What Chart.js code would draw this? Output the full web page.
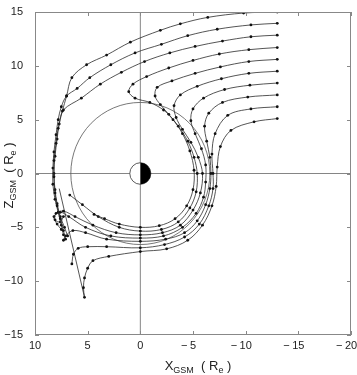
<!DOCTYPE html>
<html><head><meta charset="utf-8">
<script src="https://cdn.jsdelivr.net/npm/chart.js@4/dist/chart.umd.min.js"></script>
<style>html,body{margin:0;padding:0;background:#fff;}#wrap{width:357px;height:375px;}</style>
</head><body><div id="wrap"><canvas id="c" width="357" height="375"></canvas></div>
<script>
// Tick labels
const xTicks = [10, 5, 0, -5, -10, -15, -20];
const zTicks = [15, 10, 5, 0, -5, -10, -15];

// Trajectories in (X_GSM, Z_GSM), Re
const line1 = [[-13,15.0],[-9.8,14.9],[-6.4,14.5],[-3.8,13.9],[-1.9,13.3],[0.95,12.2],[3.2,11.0],[5.1,10.1],[6.5,8.9],[7.0,7.2],[7.4,5.8],[7.8,4.2],[8.0,2.8],[8.2,1.2],[8.2,-0.3],[8.1,-1.8],[7.9,-3.0],[7.6,-4.2],[7.3,-5.3],[7.1,-6.1]];
const line2 = [[-13,13.95],[-10.5,13.8],[-7.3,13.4],[-4.5,12.8],[-2,12.0],[0.5,11.2],[2.8,10.1],[4.8,8.9],[6.0,7.9],[7.0,7.2],[7.5,6.2],[7.8,5.0],[8.0,3.6],[8.2,2.0],[8.3,0.5],[8.3,-1.0],[8.1,-2.4],[7.8,-3.6],[7.5,-4.8],[7.3,-5.7]];
const line3 = [[-13,12.85],[-10.5,12.7],[-7.8,12.3],[-5.2,11.8],[-2.8,11.2],[-0.4,10.4],[1.8,9.4],[3.8,8.3],[5.6,7.0],[7.3,5.9],[7.7,4.6],[7.9,3.2],[8.1,1.6],[8.2,0],[8.1,-1.5],[7.9,-2.8],[7.6,-4.0],[7.2,-5.0],[6.9,-5.8]];
const line4 = [[-13,11.7],[-10.3,11.5],[-7.5,11.1],[-5,10.5],[-2.7,9.8],[-0.6,9.0],[0.7,8.3],[1.1,7.6],[0.5,7.0],[-0.9,6.6],[-2.2,5.9],[-3.1,5.0],[-4.0,3.7],[-4.7,2.1],[-5.1,0.3],[-5.0,-1.5],[-4.4,-3.0],[-3.3,-4.2],[-1.8,-4.85],[0,-5.0],[2.0,-4.7],[3.4,-4.2],[4.4,-3.8]];
const line5 = [[-13,10.6],[-10.3,10.4],[-7.6,9.9],[-5.2,9.3],[-3.0,8.6],[-1.6,8.0],[-1.4,7.2],[-1.9,6.4],[-2.7,5.5],[-3.6,4.4],[-4.5,3.0],[-5.1,1.5],[-5.4,0],[-5.3,-1.7],[-4.7,-3.2],[-3.6,-4.5],[-2.0,-5.2],[0,-5.35],[2,-5.0],[4,-4.0],[5.5,-2.9],[6.7,-2.0]];
const line6 = [[-13,9.5],[-10.3,9.3],[-7.7,8.8],[-5.4,8.1],[-3.8,7.3],[-3.2,6.3],[-3.4,5.2],[-4.0,4.1],[-4.8,2.9],[-5.5,1.5],[-5.9,0],[-5.7,-1.8],[-5.0,-3.4],[-3.8,-4.8],[-2.1,-5.5],[0,-5.7],[2.3,-5.5],[4.5,-4.8],[6.2,-4.0],[7.3,-3.5],[8.0,-3.7],[8.1,-4.3],[7.6,-4.5],[7.3,-4.0]];
const line7 = [[-13,8.4],[-10.4,8.2],[-8.0,7.8],[-6.0,7.0],[-5.0,6.0],[-4.8,4.9],[-5.2,3.7],[-5.8,2.3],[-6.2,0.8],[-6.2,-0.8],[-6.0,-2.2],[-5.3,-3.7],[-4.0,-5.0],[-2.2,-5.8],[0,-6.0],[2.8,-5.8],[5.2,-5.0],[6.8,-4.0],[7.6,-3.6],[8.2,-4.0],[7.9,-4.7],[7.5,-5.2]];
const line8 = [[-13,7.3],[-10.2,7.1],[-7.8,6.6],[-6.5,5.6],[-6.1,4.4],[-6.3,3.0],[-6.6,1.5],[-6.7,0],[-6.6,-1.4],[-6.2,-2.9],[-5.4,-4.4],[-4.2,-5.5],[-2.4,-6.1],[0,-6.3],[3.2,-6.1],[5.2,-5.5],[6.4,-5.3],[7.1,-5.8],[7.3,-6.2]];
const line9 = [[-13,6.2],[-10.5,6.0],[-8.3,5.4],[-7.1,3.7],[-6.8,1.8],[-6.9,0],[-6.9,-1.4],[-6.5,-3.0],[-5.6,-4.7],[-4.2,-5.9],[-2.3,-6.6],[0,-6.9],[3.2,-6.8],[5.0,-6.8],[5.9,-6.95],[6.35,-7.5],[6.5,-8.4]];
const line10 = [[-13,5.1],[-10.8,4.8],[-8.6,4.0],[-7.6,2.5],[-7.3,0.6],[-7.2,-1.2],[-6.8,-3.0],[-5.9,-4.8],[-4.5,-6.2],[-2.5,-7.0],[0,-7.25],[3,-7.7],[4.5,-8.1],[5.0,-8.8],[5.3,-9.7],[5.4,-10.6],[5.3,-11.5]];
const returnSegment = [[5.3,-11.5],[7.7,-1.4]];

const orbitRadius = 6.6;
const earthRadius = 1.0;

const lines = [line1,line2,line3,line4,line5,line6,line7,line8,line9,line10];

const datasets = lines.map((l,i)=>({
  label:'L'+(i+1),
  data:l.map(p=>({x:p[0],y:p[1]})),
  showLine:true, tension:0.35,
  borderColor:'#2a2a2a', borderWidth:0.8,
  pointRadius:1.4, pointBackgroundColor:'#111', pointBorderWidth:0, pointHoverRadius:1.4
}));
datasets.push({label:'seg', data:returnSegment.map(p=>({x:p[0],y:p[1]})), showLine:true, tension:0,
  borderColor:'#2a2a2a', borderWidth:0.8, pointRadius:0});

const FONT = '"Liberation Sans", Arial, sans-serif';

const decor = {
  id:'decor',
  beforeDatasetsDraw(chart){
    const {ctx, chartArea:a, scales:{x,y}} = chart;
    const cx = x.getPixelForValue(0), cy = y.getPixelForValue(0);
    ctx.save();
    ctx.strokeStyle='#777'; ctx.lineWidth=0.9;
    ctx.beginPath(); ctx.moveTo(cx,a.top); ctx.lineTo(cx,a.bottom); ctx.stroke();
    ctx.beginPath(); ctx.moveTo(a.left,cy); ctx.lineTo(a.right,cy); ctx.stroke();
    const rx = Math.abs(x.getPixelForValue(orbitRadius)-cx), rz = Math.abs(y.getPixelForValue(orbitRadius)-cy);
    ctx.strokeStyle='#555'; ctx.lineWidth=0.8;
    ctx.beginPath(); ctx.ellipse(cx,cy,rx,rz,0,0,Math.PI*2); ctx.stroke();
    const ex = Math.abs(x.getPixelForValue(earthRadius)-cx), ez = Math.abs(y.getPixelForValue(earthRadius)-cy);
    ctx.fillStyle='#fff';
    ctx.beginPath(); ctx.ellipse(cx,cy,ex,ez,0,0,Math.PI*2); ctx.fill();
    ctx.strokeStyle='#333'; ctx.lineWidth=0.8; ctx.stroke();
    ctx.fillStyle='#000';
    ctx.beginPath(); ctx.moveTo(cx,cy-ez); ctx.ellipse(cx,cy,ex,ez,0,-Math.PI/2,Math.PI/2); ctx.closePath(); ctx.fill();
    ctx.restore();
  },
  afterDraw(chart){
    const {ctx, chartArea:a, scales:{x,y}} = chart;
    ctx.save();
    ctx.strokeStyle='#888'; ctx.lineWidth=1;
    ctx.strokeRect(a.left+0.5,a.top+0.5,a.right-a.left-1,a.bottom-a.top-1);
    ctx.beginPath();
    const tl=4;
    xTicks.forEach(v=>{ const px=Math.round(x.getPixelForValue(v))+0.5;
      ctx.moveTo(px,a.bottom); ctx.lineTo(px,a.bottom-tl);
      ctx.moveTo(px,a.top); ctx.lineTo(px,a.top+tl); });
    zTicks.forEach(v=>{ const py=Math.round(y.getPixelForValue(v))+0.5;
      ctx.moveTo(a.left,py); ctx.lineTo(a.left+tl,py);
      ctx.moveTo(a.right,py); ctx.lineTo(a.right-tl,py); });
    ctx.stroke();
    // x tick labels: number centred on the tick, minus sign hanging to the left
    ctx.fillStyle='#222'; ctx.textBaseline='alphabetic';
    ctx.font='11px '+FONT;
    xTicks.forEach(v=>{
      const px = x.getPixelForValue(v);
      const num = String(Math.abs(v));
      const w = ctx.measureText(num).width;
      ctx.textAlign='center'; ctx.fillText(num, px, 349);
      if (v<0){ ctx.textAlign='right'; ctx.fillText('\u2212', px - w/2 - 2.5, 349); }
    });
    // axis titles with subscripts
    const parts = (main) => [
      {t:main,s:13,dy:0},{t:'GSM',s:9,dy:3},{t:'  ( R',s:13,dy:0},{t:'e',s:9,dy:3},{t:' )',s:13,dy:0}];
    function drawParts(ps){
      let w=0; ps.forEach(p=>{ctx.font=p.s+'px '+FONT; p.w=ctx.measureText(p.t).width; w+=p.w;});
      let xx=-w/2;
      ps.forEach(p=>{ctx.font=p.s+'px '+FONT; ctx.fillText(p.t,xx,p.dy); xx+=p.w;});
    }
    ctx.textAlign='left';
    ctx.save(); ctx.translate((a.left+a.right)/2+5, 370); drawParts(parts('X')); ctx.restore();
    ctx.save(); ctx.translate(13, (a.top+a.bottom)/2+2); ctx.rotate(-Math.PI/2); drawParts(parts('Z')); ctx.restore();
    ctx.restore();
  }
};

const fmtY = v => v<0 ? '\u2212' + (-v) : String(v);

new Chart(document.getElementById('c'), {
  type:'scatter',
  data:{datasets},
  options:{
    responsive:false, animation:false, devicePixelRatio:1,
    layout:{padding:{top:12,right:6,left:0,bottom:0}},
    plugins:{legend:{display:false}, tooltip:{enabled:false}},
    scales:{
      x:{type:'linear', min:-20, max:10, reverse:true,
        afterBuildTicks:s=>{s.ticks=xTicks.map(v=>({value:v}));},
        afterFit:s=>{s.height=40; s.paddingLeft=0; s.paddingRight=0;},
        grid:{display:false}, border:{display:false},
        ticks:{display:false}},
      y:{type:'linear', min:-15, max:15,
        afterBuildTicks:s=>{s.ticks=zTicks.map(v=>({value:v}));},
        afterFit:s=>{s.width=35; s.paddingTop=0; s.paddingBottom=0;},
        grid:{display:false}, border:{display:false},
        ticks:{callback:fmtY, color:'#222', font:{size:11,family:FONT}, padding:4, autoSkip:false}}
    }
  },
  plugins:[decor]
});
</script></body></html>
